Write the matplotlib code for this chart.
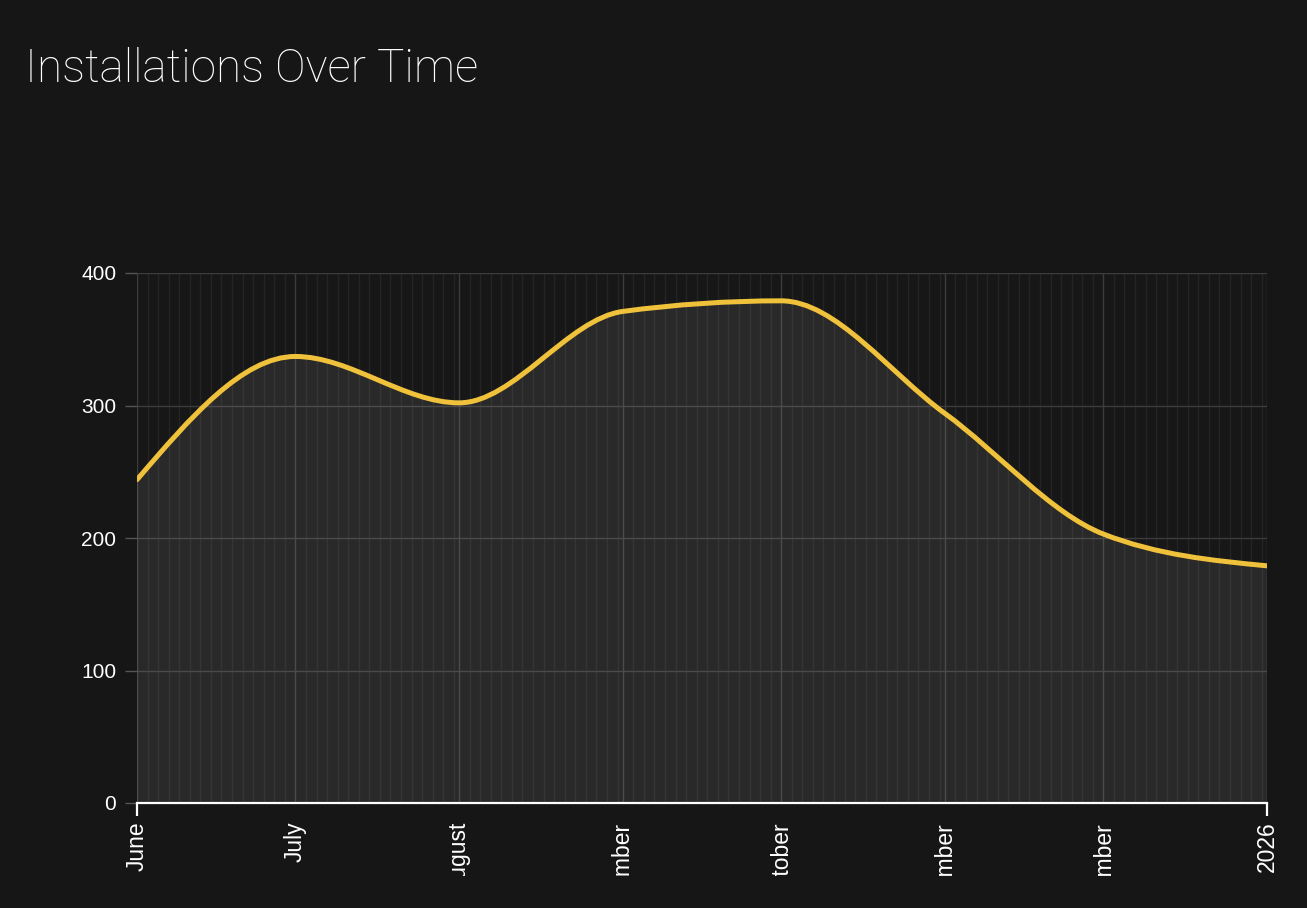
import matplotlib
matplotlib.use('Agg')
import matplotlib.pyplot as plt
import matplotlib.dates as mdates
import numpy as np

from datetime import date
from matplotlib.path import Path
from matplotlib.patches import PathPatch
from matplotlib.transforms import Bbox

# monthly installation counts (first of each month)
months = [date(2025, 6, 1), date(2025, 7, 1), date(2025, 8, 1), date(2025, 9, 1),
          date(2025, 10, 1), date(2025, 11, 1), date(2025, 12, 1), date(2026, 1, 1)]
installations = [244, 337, 302, 371, 379, 294, 203, 179]
y_ticks = [0, 100, 200, 300, 400]

BG = '#161616'
LINE = '#f0c23c'


def monotone_tangents(x, y):
    """tangents for a monotone-x cubic curve (same rule as d3.curveMonotoneX)"""
    n = len(x)
    h = np.diff(x)
    s = np.diff(y) / h
    t = np.zeros(n)
    for i in range(1, n - 1):
        p = (s[i - 1] * h[i] + s[i] * h[i - 1]) / (h[i - 1] + h[i])
        t[i] = (np.sign(s[i - 1]) + np.sign(s[i])) * min(abs(s[i - 1]), abs(s[i]), 0.5 * abs(p))
    t[0] = (3 * s[0] - t[1]) / 2
    t[-1] = (3 * s[-1] - t[-2]) / 2
    return t


def curve_path(x, y):
    t = monotone_tangents(x, y)
    verts = [(x[0], y[0])]
    codes = [Path.MOVETO]
    for i in range(len(x) - 1):
        dx = (x[i + 1] - x[i]) / 3
        verts += [(x[i] + dx, y[i] + dx * t[i]),
                  (x[i + 1] - dx, y[i + 1] - dx * t[i + 1]),
                  (x[i + 1], y[i + 1])]
        codes += [Path.CURVE4] * 3
    return verts, codes


def month_label(d, pos=None):
    d = mdates.num2date(d)
    return d.strftime('%Y') if d.month == 1 else d.strftime('%B')


plt.rcParams['font.family'] = ['Liberation Sans', 'DejaVu Sans']
fig = plt.figure(figsize=[13.07, 9.08], dpi=100, facecolor=BG)
ax = fig.add_axes([137 / 1307, 105 / 908, 1130 / 1307, 530 / 908])
ax.set_facecolor('#171717')

x = mdates.date2num(months)
y = np.array(installations, dtype=float)
verts, codes = curve_path(x, y)

# area under the curve
fill_verts = verts + [(x[-1], 0), (x[0], 0), (x[0], y[0])]
fill_codes = codes + [Path.LINETO, Path.LINETO, Path.CLOSEPOLY]
ax.add_patch(PathPatch(Path(fill_verts, fill_codes), facecolor='white', alpha=0.08,
                       edgecolor='none', zorder=2))
ax.add_patch(PathPatch(Path(verts, codes), facecolor='none', edgecolor=LINE, lw=3.6,
                       capstyle='round', joinstyle='round', zorder=4))

ax.set_xlim(x[0], x[-1])
ax.set_ylim(0, 400)
ax.set_yticks(y_ticks)

ax.xaxis.set_major_locator(mdates.MonthLocator())
ax.xaxis.set_major_formatter(plt.FuncFormatter(month_label))
ax.xaxis.set_minor_locator(mdates.DayLocator(bymonthday=range(1, 32, 2)))

ax.grid(True, which='major', color='#3c3c3c', lw=1.0, zorder=1)
ax.grid(True, which='minor', axis='x', color='#242424', lw=1.0, zorder=0.5)
ax.set_axisbelow(True)

for side in ['left', 'top', 'right']:
    ax.spines[side].set_visible(False)
ax.spines['bottom'].set_color('white')
ax.spines['bottom'].set_linewidth(1.6)
ax.spines['bottom'].set_zorder(5)

ax.tick_params(axis='x', which='both', length=0, pad=13.5, labelcolor='white', labelsize=16.5,
               labelrotation=90)
ax.tick_params(axis='y', length=9, width=1, color='#555555', pad=6, labelcolor='white', labelsize=15)

# outer ticks at both ends of the time domain
ax.vlines([x[0], x[-1]], -0.025, 0, transform=ax.get_xaxis_transform(), color='white', lw=1.6,
          clip_on=False, zorder=5)

fig.text(25 / 1307, 1 - 82 / 908, 'Installations Over Time', color='white', fontsize=33,
         family='Roboto', fontweight='light', va='baseline', ha='left')

# long month names get cut off below the axis, as in the dashboard
fig.canvas.draw()
clip = Bbox.from_extents(0, 32, 1307, 105)
for label in ax.get_xticklabels():
    label.set_clip_box(clip)
    label.set_clip_on(True)

plt.savefig('out.png', dpi=100, facecolor=BG)
